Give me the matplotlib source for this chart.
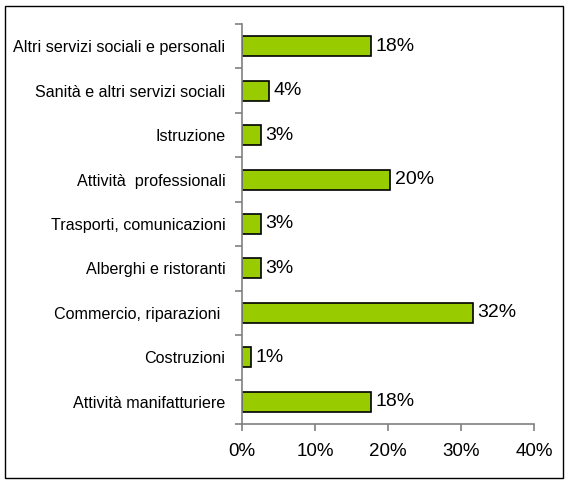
import matplotlib
matplotlib.use('Agg')
import matplotlib.pyplot as plt
from matplotlib.patches import Rectangle
import numpy as np

plt.rcParams['font.family'] = ['Liberation Sans', 'DejaVu Sans']

# settori, dal basso verso l'alto
settori = [
    'Attività manifatturiere',
    'Costruzioni',
    'Commercio, riparazioni ',
    'Alberghi e ristoranti',
    'Trasporti, comunicazioni',
    'Attività  professionali',
    'Istruzione',
    'Sanità e altri servizi sociali',
    'Altri servizi sociali e personali',
]
quote = [17.7, 1.2, 31.6, 2.6, 2.6, 20.3, 2.6, 3.7, 17.7]
tick_x = [0, 10, 20, 30, 40]

fig = plt.figure(figsize=(5.69, 4.83), dpi=100)
ax = fig.add_axes([0.4253, 0.1222, 0.5132, 0.8281])

y = np.arange(len(settori))
ax.barh(y, quote, height=0.45, color='#99CC00', edgecolor='black', linewidth=1.2)

for yi, q in zip(y, quote):
    ax.text(q + 0.6, yi, f'{round(q):d}%', va='center', ha='left', fontsize=14)

ax.set_xlim(0, 40)
ax.set_ylim(-0.5, len(settori) - 0.5)
ax.set_xticks(tick_x)
ax.set_xticklabels([f'{t}%' for t in tick_x], fontsize=13.5)
ax.set_yticks(y)
ax.set_yticklabels(settori, fontsize=11.6)
ax.set_yticks(np.arange(len(settori) + 1) - 0.5, minor=True)
ax.tick_params(axis='y', which='major', length=0, pad=12)
ax.tick_params(axis='y', which='minor', length=5, color='#808080', width=1.2)
ax.tick_params(axis='x', length=5, color='#808080', width=1.2, pad=9)

for s in ('top', 'right'):
    ax.spines[s].set_visible(False)
for s in ('left', 'bottom'):
    ax.spines[s].set_color('#808080')
    ax.spines[s].set_linewidth(1.2)

# cornice esterna
fig.patches.append(Rectangle((5 / 569, 5 / 483), 558 / 569, 472 / 483,
                             transform=fig.transFigure, fill=False,
                             edgecolor='black', linewidth=1))

fig.savefig('out.png', dpi=100)
